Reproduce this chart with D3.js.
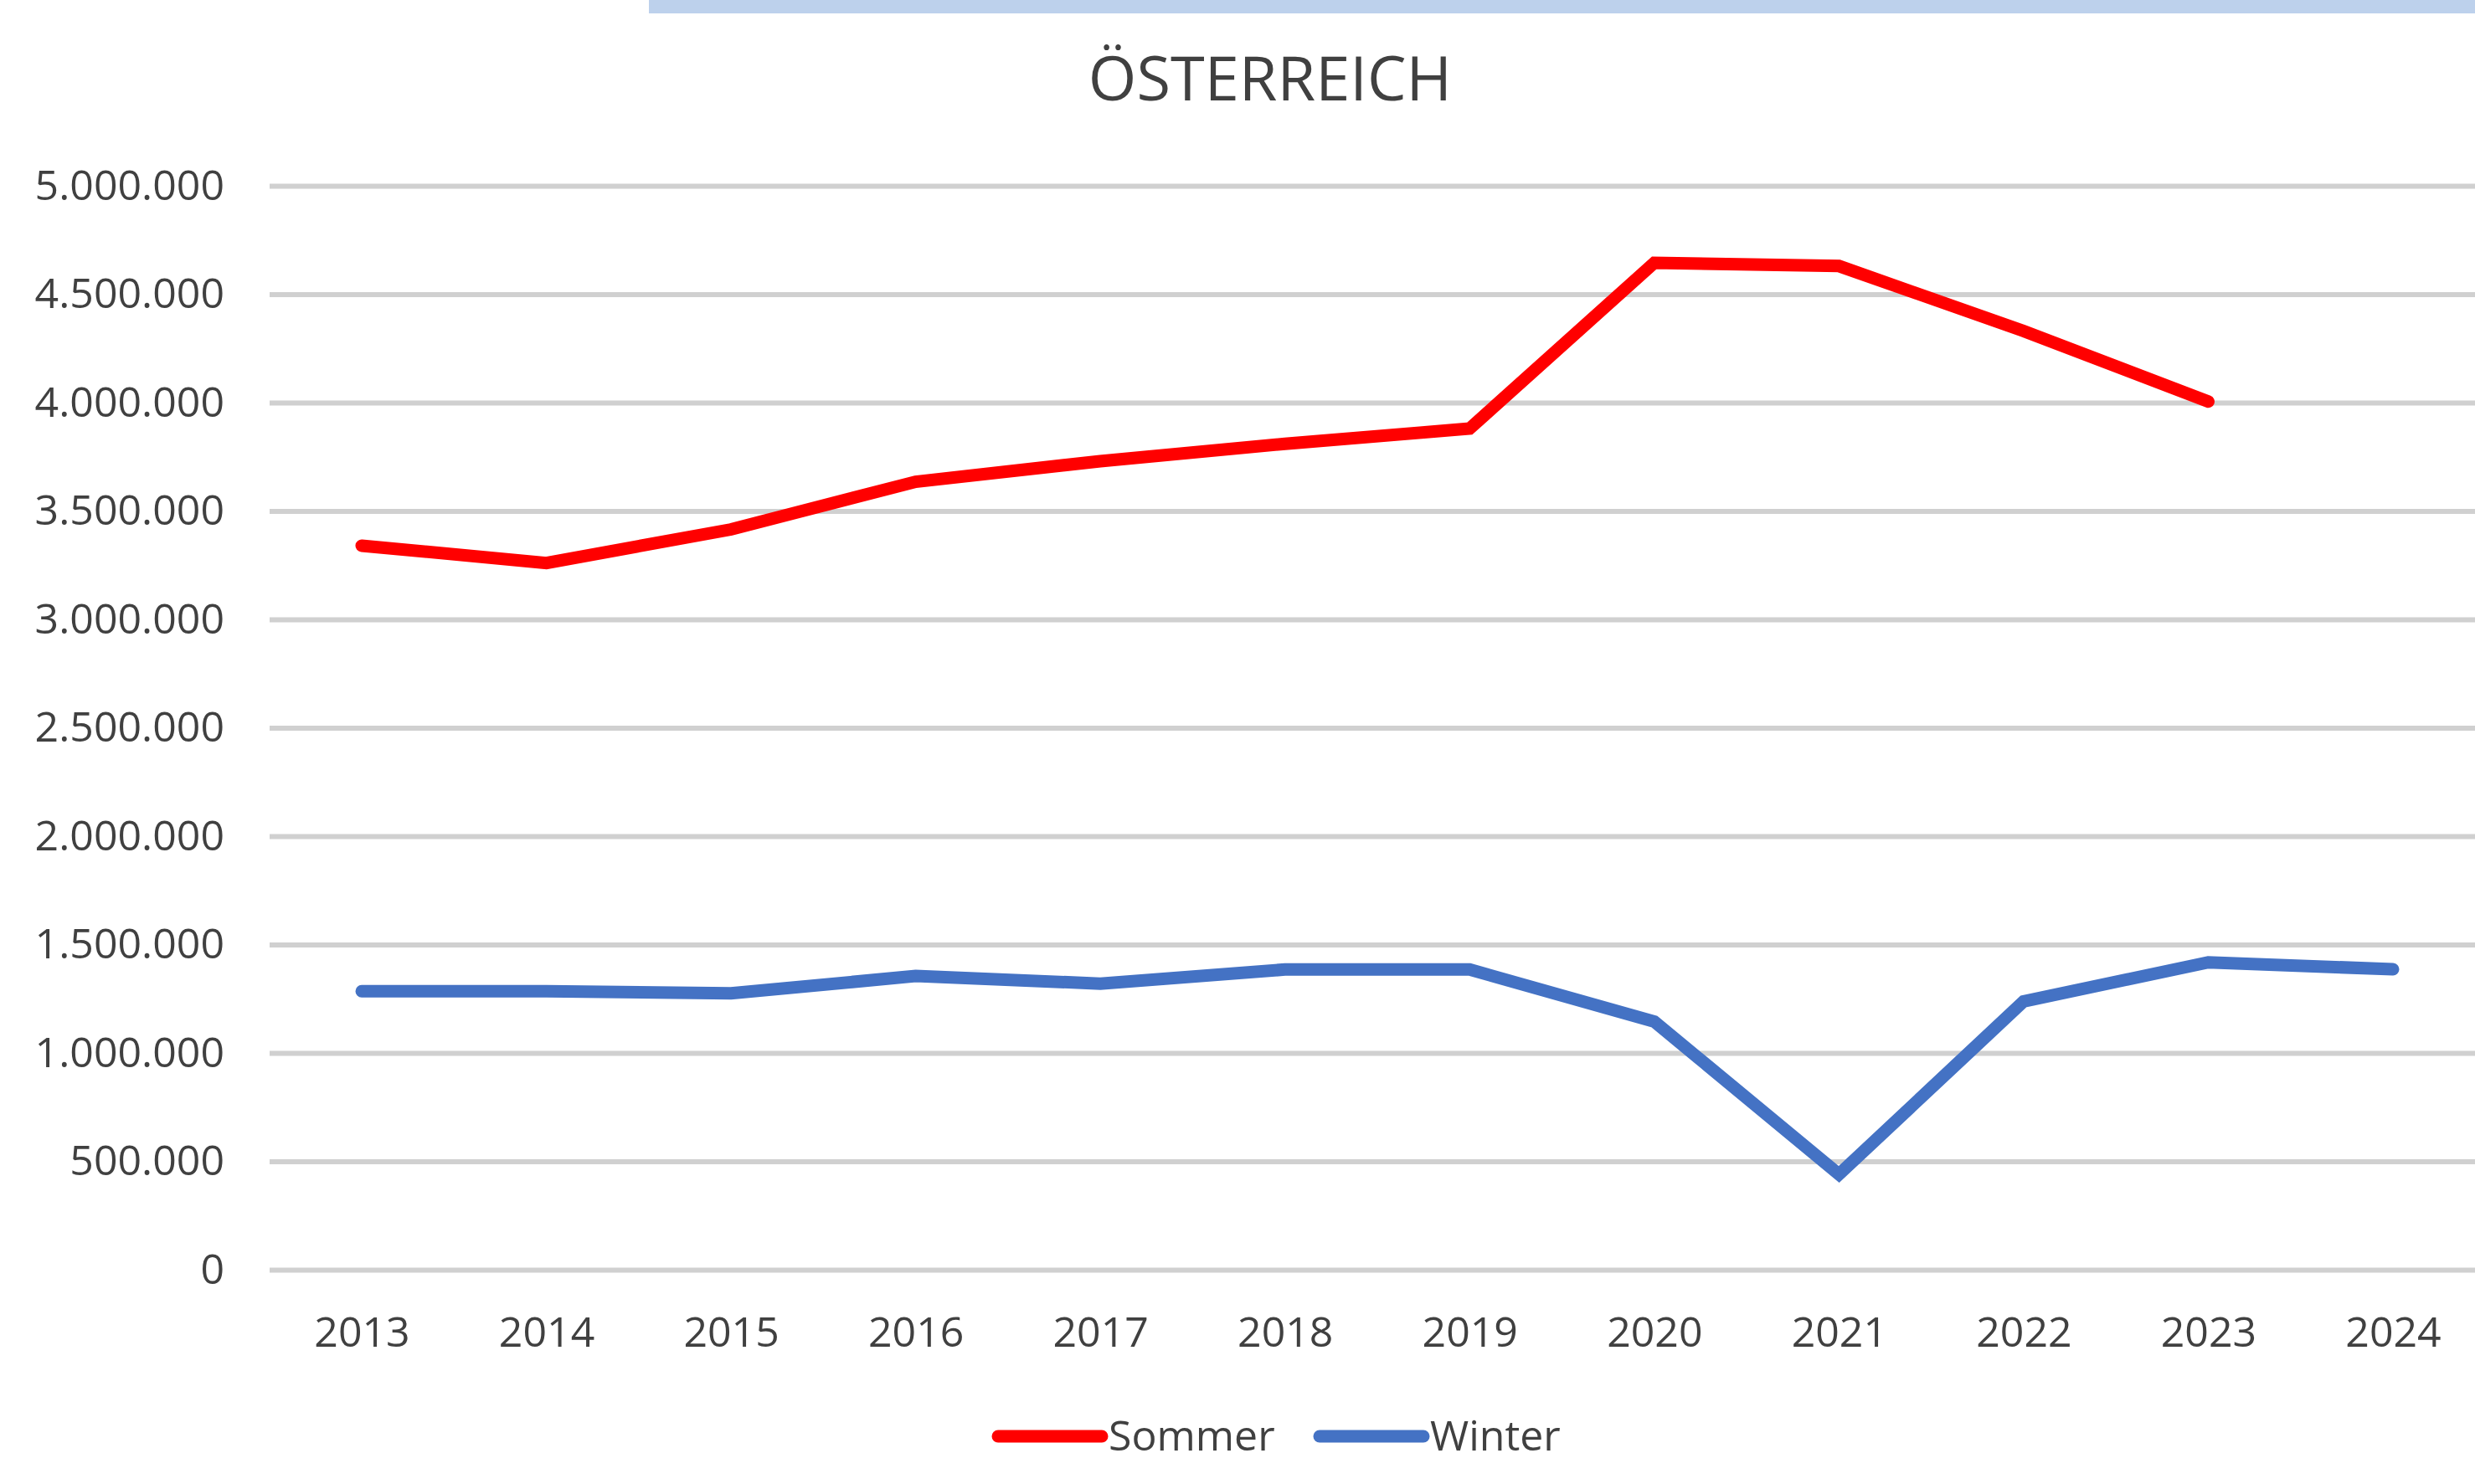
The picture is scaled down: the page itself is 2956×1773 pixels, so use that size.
<html>
<head>
<script src="https://d3js.org/d3.v7.min.js"></script>
<style>
  body { margin: 0; background: #fff; }
  text { font-family: "Open Sans", sans-serif; fill: #404040; }
</style>
</head>
<body>
<svg id="chart" width="2956" height="1773"></svg>
<script>
  // data
  var years = [2013, 2014, 2015, 2016, 2017, 2018, 2019, 2020, 2021, 2022, 2023, 2024];
  var sommer = [3340000, 3260000, 3415000, 3635000, 3730000, 3810000, 3880000, 4645000, 4630000, 4330000, 4005000, null];
  var winter = [1285000, 1285000, 1275000, 1355000, 1320000, 1385000, 1385000, 1145000, 440000, 1238000, 1418000, 1386000];
  var yTicks = [0, 500000, 1000000, 1500000, 2000000, 2500000, 3000000, 3500000, 4000000, 4500000, 5000000];
  var seriesNames = ["Sommer", "Winter"];
  var seriesColors = ["#ff0000", "#4472c4"];

  var svg = d3.select("#chart");

  var de = d3.formatLocale({decimal: ",", thousands: ".", grouping: [3], currency: ["", " €"]});
  var fmt = de.format(",d");

  var x = d3.scalePoint()
    .domain(years)
    .range([432, 2858]);

  var y = d3.scaleLinear()
    .domain([0, 5000000])
    .range([1517, 222]);

  // light blue strip at the top (cropped screenshot edge)
  svg.append("rect")
    .attr("x", 775).attr("y", 0)
    .attr("width", 2956 - 775).attr("height", 16)
    .attr("fill", "#bdd1ec");

  // title
  svg.append("text")
    .attr("x", 1517).attr("y", 120)
    .attr("text-anchor", "middle")
    .attr("font-size", 74)
    .text("ÖSTERREICH");

  // y axis with gridlines
  var yAxis = svg.append("g")
    .attr("transform", "translate(322,0)")
    .call(d3.axisLeft(y).tickValues(yTicks).tickFormat(fmt).tickSize(-(2956 - 322)).tickPadding(54));
  yAxis.select(".domain").remove();
  yAxis.selectAll("line").attr("stroke", "#d0d0d0").attr("stroke-width", 6);
  yAxis.selectAll("text").attr("font-size", 50).attr("font-family", "Open Sans").style("fill", "#404040");

  // x axis
  var xAxis = svg.append("g")
    .attr("transform", "translate(0,1517)")
    .call(d3.axisBottom(x).tickSize(0).tickPadding(56).tickFormat(d3.format("d")));
  xAxis.select(".domain").remove();
  xAxis.selectAll("text").attr("font-size", 50).attr("font-family", "Open Sans").style("fill", "#404040");

  var line = d3.line()
    .defined(function(d) { return d != null; })
    .x(function(d, i) { return x(years[i]); })
    .y(function(d) { return y(d); });

  [sommer, winter].forEach(function(s, k) {
    svg.append("path")
      .datum(s)
      .attr("fill", "none")
      .attr("stroke", seriesColors[k])
      .attr("stroke-width", 15)
      .attr("stroke-linecap", "round")
      .attr("stroke-linejoin", "miter")
      .attr("d", line);
  });

  // legend
  var legendX = [1192, 1576];
  seriesNames.forEach(function(name, k) {
    svg.append("line")
      .attr("x1", legendX[k]).attr("x2", legendX[k] + 124)
      .attr("y1", 1716).attr("y2", 1716)
      .attr("stroke", seriesColors[k])
      .attr("stroke-width", 15)
      .attr("stroke-linecap", "round");
    svg.append("text")
      .attr("x", legendX[k] + 132).attr("y", 1733)
      .attr("font-size", 50)
      .text(name);
  });
</script>
</body>
</html>
